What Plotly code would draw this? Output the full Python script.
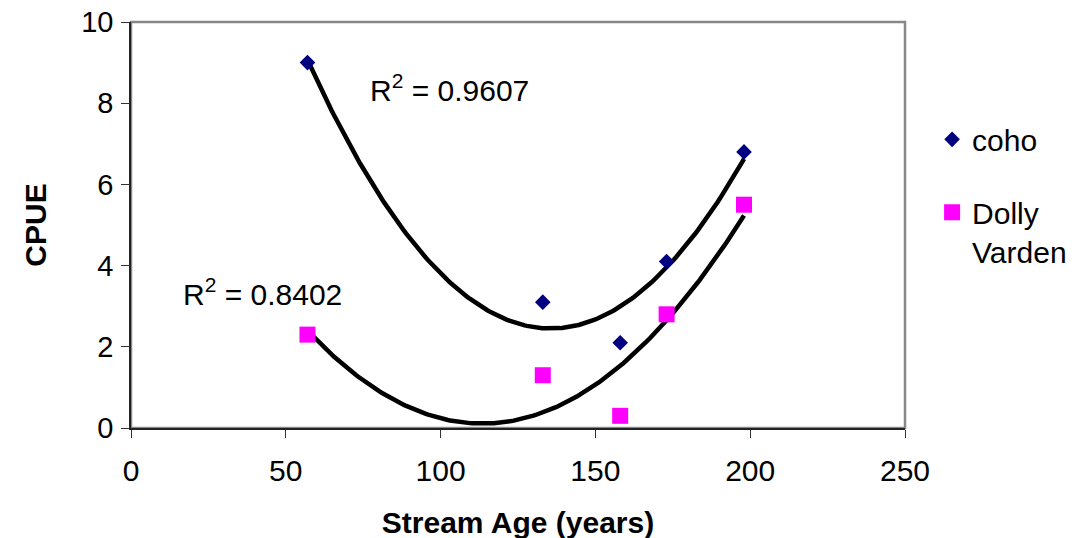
import numpy as np
import plotly.graph_objects as go

stream_age = [57, 133, 158, 173, 198]
coho = [9.0, 3.1, 2.1, 4.1, 6.8]
dolly_varden = [2.3, 1.3, 0.3, 2.8, 5.5]
x_ticks = [0, 50, 100, 150, 200, 250]
y_ticks = [0, 2, 4, 6, 8, 10]

def poly_fit(x, y):
    c = np.polyfit(x, y, 2)
    xs = np.linspace(min(x), max(x), 200)
    ys = np.polyval(c, xs)
    pred = np.polyval(c, x)
    r2 = 1 - np.sum((np.array(y) - pred) ** 2) / np.sum((np.array(y) - np.mean(y)) ** 2)
    return xs, ys, r2

cx, cy, cr2 = poly_fit(stream_age, coho)
dx, dy, dr2 = poly_fit(stream_age, dolly_varden)

FS = 30

fig = go.Figure()
fig.add_trace(go.Scatter(x=cx, y=cy, mode="lines", line=dict(color="black", width=4.5),
                         showlegend=False, hoverinfo="skip"))
fig.add_trace(go.Scatter(x=dx, y=dy, mode="lines", line=dict(color="black", width=4.5),
                         showlegend=False, hoverinfo="skip"))
fig.add_trace(go.Scatter(x=stream_age, y=coho, mode="markers", name="coho",
                         legendgroup="a",
                         marker=dict(symbol="diamond", color="#000080", size=12)))
fig.add_trace(go.Scatter(x=stream_age, y=dolly_varden, mode="markers", name="Dolly<br>Varden",
                         legendgroup="b",
                         marker=dict(symbol="square", color="#FF00FF", size=16)))

fig.add_annotation(x=76.5, y=8.37, xanchor="left", yanchor="middle", showarrow=False,
                   text="R<sup>2</sup> = 0.9607", font=dict(size=FS, color="black"))
fig.add_annotation(x=16, y=3.35, xanchor="left", yanchor="middle", showarrow=False,
                   text="R<sup>2</sup> = 0.8402", font=dict(size=FS, color="black"))

# gray plot-area border (top/right visible), axes drawn dark on left/bottom
fig.add_shape(type="rect", xref="x domain", yref="y domain", x0=0, x1=1, y0=0, y1=1,
              line=dict(color="#888888", width=2.5), layer="below")

axis_common = dict(showgrid=False, zeroline=False, showline=True, linecolor="#222222",
                   linewidth=1.5, mirror=False, ticks="outside", ticklen=8, tickwidth=1.2,
                   tickcolor="#333333",
                   ticklabeloverflow="allow", automargin=False)
fig.update_xaxes(range=[0, 250], tickvals=x_ticks, ticklabelstandoff=7,
                 tickfont=dict(size=FS, color="black"),
                 title=dict(text="<b>Stream Age (years)</b>", font=dict(size=FS, color="black"), standoff=26),
                 **axis_common)
fig.update_yaxes(range=[0, 10], tickvals=y_ticks, ticklabelstandoff=2,
                 tickfont=dict(size=29, color="black"),
                 title=dict(text="<b>CPUE</b>", font=dict(size=FS, color="black"), standoff=26),
                 **axis_common)

fig.update_layout(
    width=1076, height=538,
    margin=dict(l=123, r=179, t=14, b=118),
    paper_bgcolor="white", plot_bgcolor="white",
    font=dict(family="Liberation Sans, Arial, sans-serif", color="black"),
    legend=dict(x=1.035, y=0.775, xanchor="left", yanchor="top", valign="top",
                font=dict(size=FS, color="black"), tracegroupgap=31,
                bgcolor="rgba(0,0,0,0)", itemwidth=30),
)

fig.write_html("out.html", config={"displayModeBar": False})
